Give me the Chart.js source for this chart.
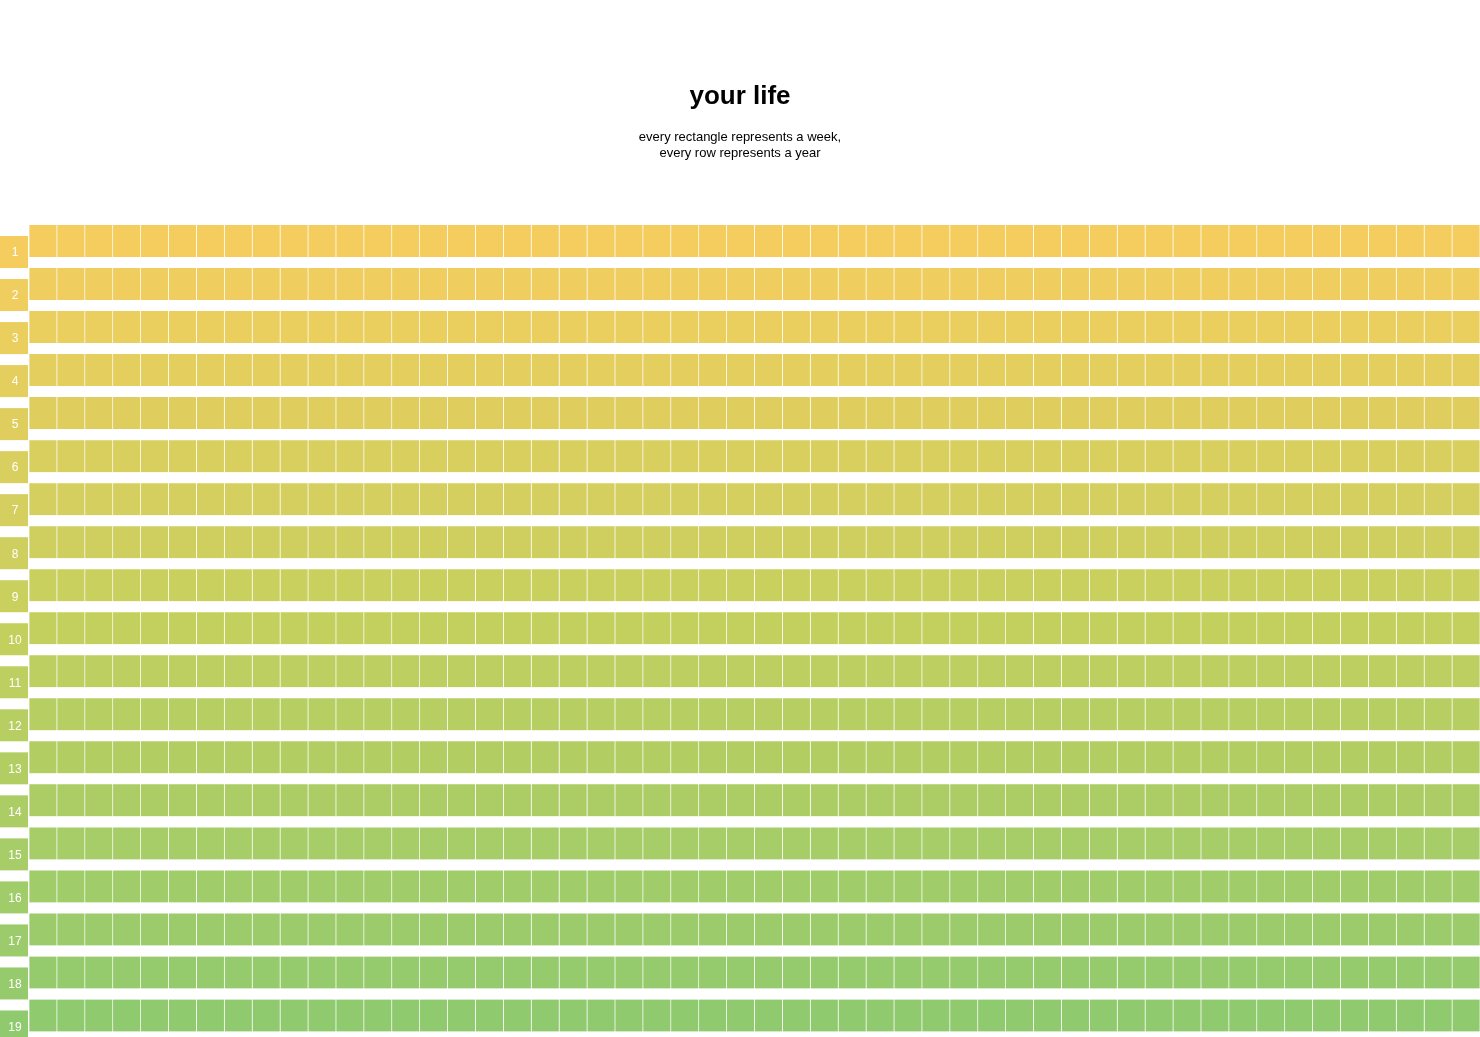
<!DOCTYPE html>
<html>
<head>
<meta charset="utf-8">
<title>your life</title>
<script src="https://cdn.jsdelivr.net/npm/chart.js@4/dist/chart.umd.min.js"></script>
<style>
  html, body { margin: 0; padding: 0; background: #fff; overflow: hidden; }
  #wrap { width: 1480px; height: 1037px; }
</style>
</head>
<body>
<div id="wrap"><canvas id="life"></canvas></div>
<script>
// rows = years of life shown, columns = weeks in a year
const years = [1, 2, 3, 4, 5, 6, 7, 8, 9, 10, 11, 12, 13, 14, 15, 16, 17, 18, 19];
const weeks = [
  1, 2, 3, 4, 5, 6, 7, 8, 9, 10, 11, 12, 13, 14, 15, 16, 17, 18, 19, 20, 21, 22, 23, 24, 25, 26,
  27, 28, 29, 30, 31, 32, 33, 34, 35, 36, 37, 38, 39, 40, 41, 42, 43, 44, 45, 46, 47, 48, 49, 50, 51, 52
];
// every rectangle is one week long
const weekSpan = [
  1, 1, 1, 1, 1, 1, 1, 1, 1, 1, 1, 1, 1, 1, 1, 1, 1, 1, 1, 1, 1, 1, 1, 1, 1, 1,
  1, 1, 1, 1, 1, 1, 1, 1, 1, 1, 1, 1, 1, 1, 1, 1, 1, 1, 1, 1, 1, 1, 1, 1, 1, 1
];

const fontFamily = "'Liberation Sans', Arial, Helvetica, sans-serif";

// yellow -> green gradient down the rows
const colorStops = [
  [0, [245, 205, 94]],
  [0.5, [195, 208, 94]],
  [1, [143, 202, 110]]
];
const rowColor = (i) => {
  const t = years.length > 1 ? i / (years.length - 1) : 0;
  let k = 0;
  while (k < colorStops.length - 2 && t > colorStops[k + 1][0]) k++;
  const [t0, c0] = colorStops[k];
  const [t1, c1] = colorStops[k + 1];
  const f = (t - t0) / (t1 - t0);
  const c = c0.map((v, j) => Math.round(v + (c1[j] - v) * f));
  return `rgb(${c[0]}, ${c[1]}, ${c[2]})`;
};
const rowColors = years.map((_, i) => rowColor(i));

// draws the year number boxes on the left of every row
const yearLabels = {
  id: 'yearLabels',
  afterDatasetsDraw(chart) {
    const ctx = chart.ctx;
    const yScale = chart.scales.y;
    ctx.save();
    years.forEach((year, i) => {
      const center = yScale.getPixelForValue(i);
      const top = center - 16 + 11;
      ctx.fillStyle = rowColors[i];
      ctx.fillRect(0, top, 28, 32);
      ctx.fillStyle = '#ffffff';
      ctx.font = `12px ${fontFamily}`;
      ctx.textAlign = 'center';
      ctx.textBaseline = 'middle';
      ctx.fillText(String(year), 15, top + 17);
    });
    ctx.restore();
  }
};

const datasets = weeks.map((week, w) => ({
  label: 'week ' + week,
  data: years.map(() => weekSpan[w]),
  backgroundColor: rowColors,
  borderColor: '#ffffff',
  borderWidth: { left: 0.7, right: 0.7, top: 0, bottom: 0 },
  borderSkipped: false,
  barThickness: 32
}));

new Chart(document.getElementById('life'), {
  type: 'bar',
  data: {
    labels: years,
    datasets: datasets
  },
  options: {
    indexAxis: 'y',
    responsive: true,
    maintainAspectRatio: false,
    animation: false,
    events: [],
    layout: {
      padding: 0
    },
    plugins: {
      legend: { display: false },
      tooltip: { enabled: false },
      title: {
        display: true,
        text: 'your life',
        color: '#000',
        font: { size: 26, weight: 'bold', family: fontFamily, lineHeight: 1.2 },
        padding: { top: 81.4, bottom: 16.4 }
      },
      subtitle: {
        display: true,
        text: ['every rectangle represents a week,', 'every row represents a year'],
        color: '#000',
        font: { size: 13, family: fontFamily, lineHeight: 16 / 13 },
        padding: { top: 0, bottom: 58.5 }
      }
    },
    scales: {
      x: {
        stacked: true,
        min: 0,
        max: 52,
        display: false
      },
      y: {
        stacked: true,
        offset: true,
        grid: { display: false },
        border: { display: false },
        ticks: { display: false },
        // room for the year boxes on the left
        afterFit: (scale) => { scale.width = 29; }
      }
    }
  },
  plugins: [yearLabels]
});
</script>
</body>
</html>
